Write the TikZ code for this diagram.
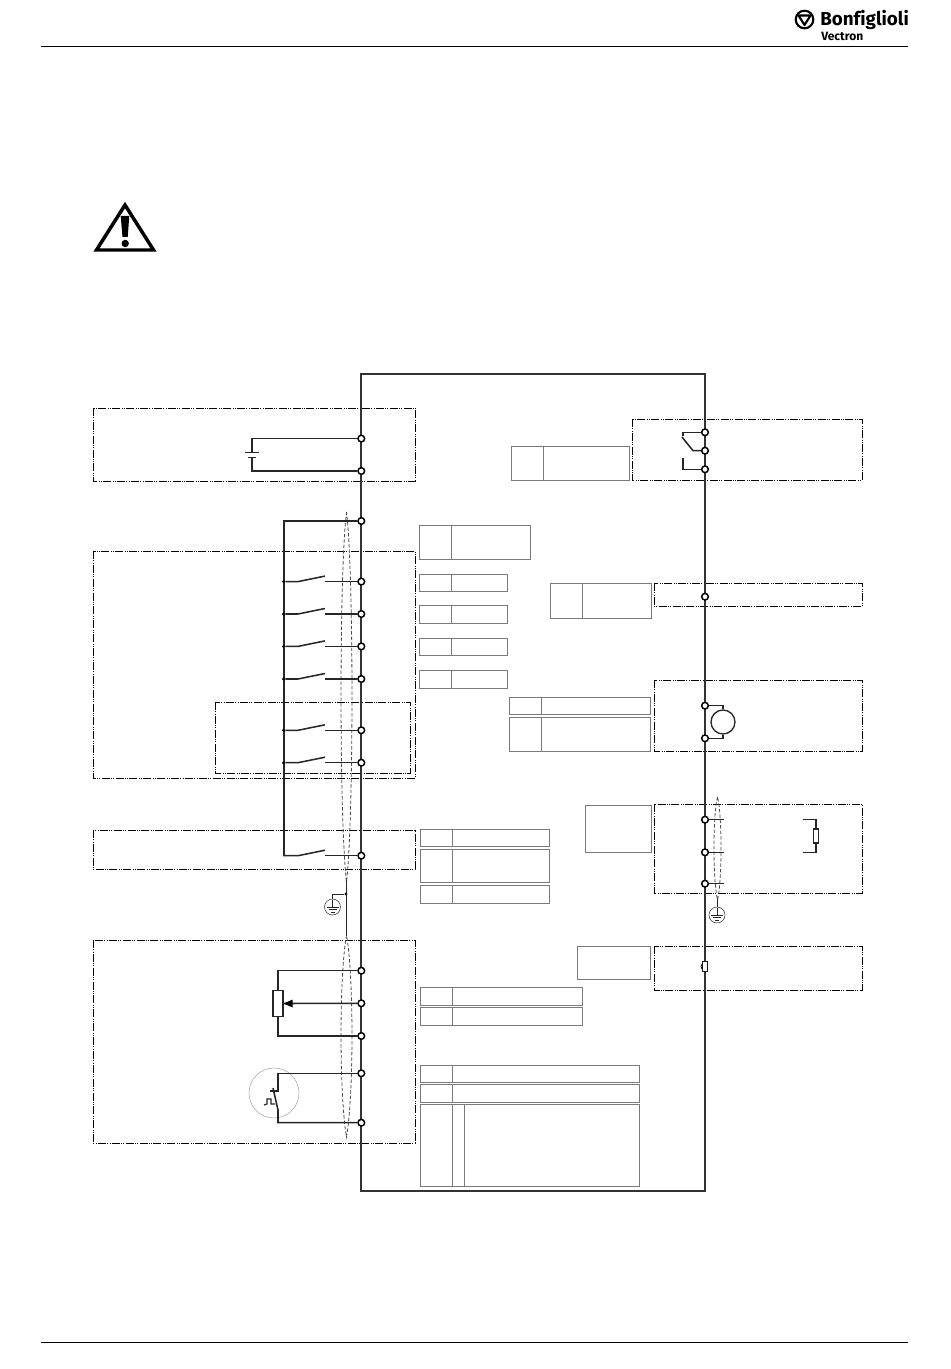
\documentclass[tikz,border=0pt]{standalone}
\usepackage{fontspec}
\newfontfamily\logofont[Ligatures=NoCommon]{Fira Sans}
\begin{document}
\begin{tikzpicture}[
  x=0.75pt, y=-0.75pt,
  wire/.style={draw=black!85, line width=1.15pt},
  busline/.style={draw=black!80, line width=1.6pt},
  term/.style={circle, draw=black, fill=white, line width=1.1pt, inner sep=0pt, minimum size=5pt},
  swdot/.style={circle, fill=black, inner sep=0pt, minimum size=2.4pt},
  zone/.style={draw=black, line width=0.7pt, dash pattern=on 6pt off 1pt on 0.7pt off 1pt on 0.7pt off 1pt},
  cellbox/.style={draw=black!52, line width=0.75pt},
  shield/.style={draw=black!70, line width=0.6pt, dash pattern=on 2.6pt off 1.5pt},
  gndring/.style={circle, draw=black!80, fill=white, line width=0.4pt, inner sep=0pt, minimum size=12pt},
  rule/.style={draw=black, line width=0.7pt}
]
\useasboundingbox (0,0) rectangle (950,1369);

% Page head and foot
\draw[rule] (41,46.5) -- (908,46.5);
\draw[rule] (41,1342.5) -- (908,1342.5);
\node[circle, draw=black, line width=1.6pt, inner sep=0pt, minimum size=13.2pt] (logoRing) at (804.5,19.5) {};
\draw[black, line width=1.6pt, line join=round] (798.5,15.5) -- (810.5,15.5) -- (804.5,25) -- cycle;
\node[anchor=base west, inner sep=0pt, font=\logofont\bfseries\fontsize{14.1}{15}\selectfont] (logoName) at (820,25.5) {Bonfiglioli};
\node[anchor=base west, inner sep=0pt, font=\logofont\bfseries\fontsize{9}{10}\selectfont] (logoSub) at (821,41) {Vectron};

% Warning sign
\draw[black, line width=2.6pt, line join=miter] (125,205) -- (153.5,250) -- (96.5,250) -- cycle;
\fill[black] (120.7,216) -- (129.3,216) -- (127.7,237) -- (122.5,237) -- cycle;
\fill[black] (125.2,243.5) circle [radius=3.7];

% Zones
\foreach \xa/\ya/\xb/\yb in {93/408/415/481, 93/551/415/778, 215/702/410/773, 93/830/415/869,
    93/940/415/1143, 632/419/862/480, 654/583/862/606, 654/680/862/751, 654/804/862/893, 654/946/862/990}
  \draw[zone] (\xa,\ya) rectangle (\xb,\yb);

% Table cells
\foreach \xa/\ya/\xb/\hh/\xs in {
    511/446.5/629/34/543, 419.5/525/530/34/451, 419.5/574/507/17.5/451, 419.5/605.5/507/17.5/451,
    419.5/638/507/17.5/451, 419.5/670.5/507/17.5/451, 550.5/583.5/651/34.5/582, 509.5/697.5/650/17/541,
    509.5/717.3/650/33.7/541, 420.5/829.3/549/17.4/452, 420.5/849.4/549/33.2/452, 420.5/885.4/549/17.8/452,
    420.5/987.7/582/17.5/452, 420.5/1007.7/582/17.5/452, 420.5/1065/639/17.5/452, 420.5/1084.5/639/17.5/452,
    420.5/1104.5/639/81.5/452}
  \draw[cellbox] (\xa,\ya) rectangle (\xb,\ya+\hh) (\xs,\ya) -- (\xs,\ya+\hh);
\draw[cellbox] (464,1104.5) -- (464,1186);
\draw[cellbox] (585,805) rectangle (651,852);
\draw[cellbox] (577.5,946.5) rectangle (650.5,979);

% Main frame
\draw[busline] (361.3,374) rectangle (705,1191);

% Terminals
\foreach \y [count=\i] in {438.6,471,521,581.6,614,646.4,679,730.3,762.7,855.7,970.7,1003.3,1036,1073.3,1122.7}
  \node[term] (L\i) at (361.3,\y) {};
\foreach \y [count=\i] in {432.3,450.7,469.3,596.7,705.7,738.3,819.7,852.3,883.7}
  \node[term] (R\i) at (705,\y) {};

% Shields, behind the wiring
\draw[shield] (346.5,512) .. controls (339.2,570) and (339.2,820) .. (346.5,882)
  .. controls (353.8,820) and (353.8,570) .. (346.5,512);
\draw[shield] (346.5,935) .. controls (339.2,975) and (339.2,1095) .. (346.5,1137)
  .. controls (353.8,1095) and (353.8,975) .. (346.5,935);
\draw[shield] (717.5,797) .. controls (712.8,815) and (712.8,880) .. (717.5,900)
  .. controls (722.2,880) and (722.2,815) .. (717.5,797);

% Battery
\coordinate (batTop) at (252,452.7);
\coordinate (batBot) at (252,457.7);
\draw[wire] (L1) -| (batTop);
\draw[wire] (L2) -| (batBot);
\draw[wire] (245,452.7) -- (259,452.7);
\draw[wire] (248,457.7) -- (256,457.7);

% Switches on the bus
\coordinate (busTop) at (284,521);
\coordinate (busEnd) at (284,855.7);
\draw[wire] (L3) -- (busTop) -- (busEnd) -- (298,855.7) -- (325,850.2);
\draw[wire] (325,855.7) -- (L10);
\foreach \t/\y in {4/581.6,5/614,6/646.4,7/679,8/730.3,9/762.7} {
  \node[swdot] (dot\t) at (283.5,\y) {};
  \draw[wire] (dot\t) -- (298,\y) -- (325,\y-5.5);
  \draw[wire] (325,\y) -- (L\t);
}

% Ground left
\node[swdot] (gndJoin) at (346,894) {};
\node[gndring] (gndL) at (332.5,907) {};
\coordinate (shieldLa) at (346.5,880);
\coordinate (shieldLb) at (346.5,936);
\draw[black!85, line width=0.7pt] (shieldLa) -- (shieldLb);
\draw[black!85, line width=0.7pt] (gndJoin) -| (gndL.north);

% Ground right
\node[gndring] (gndR) at (717,915) {};
\coordinate (shieldR) at (717,899);
\draw[black!85, line width=0.7pt] (shieldR) -- (gndR.north);
\foreach \g in {gndL,gndR}
  \draw[black!85, line width=0.6pt, shift={(\g)}] (0,-7.5) -- (0,0) (-6,0) -- (6,0) (-4,2.7) -- (4,2.7) (-2,5.2) -- (2,5.2);

% Potentiometer
\node[draw=black!85, fill=white, line width=0.9pt, inner sep=0pt, minimum width=7.5pt, minimum height=20pt] (pot) at (278,1003.5) {};
\draw[wire] (L11) -| (pot.north);
\draw[wire] (L13) -| (pot.south);
\draw[wire] (L12) -- (pot.east);
\fill[black] (pot.east) -- ++(9,-4) -- ++(0,8) -- cycle;

% Thermal contact
\node[circle, draw=black!35, line width=0.4pt, inner sep=0pt, minimum size=37.5pt] (ptc) at (274,1093) {};
\coordinate (ptcA) at (278,1091);
\coordinate (ptcB) at (278,1110);
\draw[wire] (L14) -| (ptcA) -- (270,1091);
\draw[wire] (L15) -| (ptcB) -- (273,1088);
\draw[black!85, line width=0.9pt] (264,1105) -- (267,1104) -- (267,1099) -- (271,1099) -- (271,1104) -- (275,1104);

% Relay
\coordinate (relayA) at (683,436);
\coordinate (relayB) at (683,458);
\draw[wire] (R1) -| (relayA);
\draw[wire] (R3) -| (relayB);
\draw[wire] (R2) -- (693,450.7) -- (682,437);

% Motor
\node[circle, draw=black!85, line width=1pt, inner sep=0pt, minimum size=18pt] (motor) at (723,722) {};
\draw[wire] (R5) -| (motor.north);
\draw[wire] (R6) -| (motor.south);

% Shielded outputs
\draw[wire] (R7) -- (724,819.7);
\draw[wire] (R8) -- (724,852.3);
\draw[wire] (R9) -- (724,883.7);
\node[draw=black!85, fill=white, line width=0.9pt, inner sep=0pt, minimum width=4.2pt, minimum height=10.5pt] (load) at (816,836) {};
\draw[wire] (803,819.7) -| (load.north);
\draw[wire] (803,852.3) -| (load.south);

% Fuse
\node[draw=black!90, fill=white, line width=0.75pt, inner sep=0pt, minimum width=4.2pt, minimum height=8.2pt] (fuse) at (705,966.5) {};
\draw[black!90, line width=0.7pt] (702,964) -- (701,966.5) -- (702,969);

\end{tikzpicture}
\end{document}
